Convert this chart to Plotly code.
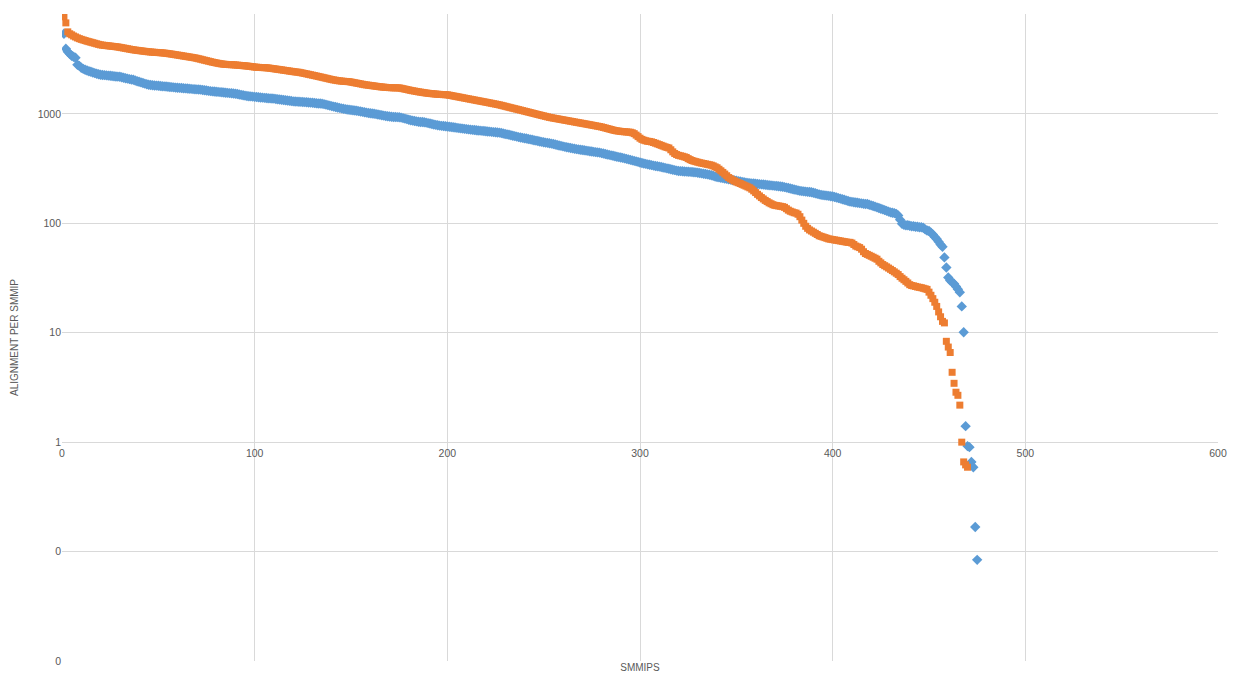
import plotly.graph_objects as go

# Blue series (diamonds) – alignment per smMIP, sorted descending
blue_vals = [
    5400, 3940, 3690, 3540, 3400, 3330, 3260, 2810, 2750, 2640, 2580, 2530, 2490, 2450, 2425, 2390, 2360, 2330, 2300, 2280,
    2270, 2260, 2250, 2240, 2230, 2220, 2210, 2200, 2190, 2185, 2160, 2140, 2120, 2100, 2080, 2065, 2050, 2020, 1990, 1967,
    1940, 1915, 1890, 1865, 1845, 1835, 1828, 1820, 1814, 1808, 1800, 1792, 1785, 1778, 1770, 1762, 1755, 1748, 1740, 1733,
    1728, 1722, 1716, 1710, 1704, 1698, 1692, 1686, 1680, 1675, 1670, 1665, 1655, 1645, 1635, 1625, 1615, 1607, 1600, 1595,
    1588, 1582, 1575, 1568, 1562, 1555, 1548, 1542, 1535, 1528, 1518, 1505, 1492, 1480, 1468, 1458, 1450, 1445, 1438, 1432,
    1426, 1420, 1414, 1408, 1402, 1396, 1390, 1386, 1382, 1378, 1370, 1362, 1355, 1348, 1340, 1332, 1325, 1318, 1310, 1302,
    1298, 1295, 1292, 1288, 1284, 1280, 1276, 1272, 1268, 1264, 1258, 1252, 1246, 1243, 1240, 1228, 1215, 1202, 1190, 1178,
    1166, 1155, 1144, 1134, 1124, 1115, 1106, 1098, 1092, 1086, 1080, 1074, 1068, 1060, 1052, 1044, 1036, 1028, 1020, 1014,
    1010, 1004, 996, 988, 980, 972, 965, 958, 952, 946, 941, 938, 936, 934, 933, 925, 915, 905, 895, 885,
    876, 868, 860, 854, 848, 844, 842, 840, 832, 824, 816, 808, 800, 794, 788, 782, 778, 774, 770, 766,
    762, 758, 754, 750, 746, 742, 738, 734, 730, 726, 722, 718, 715, 712, 709, 706, 703, 700, 697, 694,
    691, 688, 685, 682, 679, 676, 674, 668, 662, 656, 650, 644, 638, 632, 626, 620, 614, 608, 604, 600,
    595, 590, 585, 580, 575, 570, 565, 560, 555, 550, 546, 543, 540, 535, 530, 525, 520, 515, 510, 505,
    500, 496, 492, 488, 484, 480, 477, 474, 471, 468, 465, 462, 459, 456, 453, 450, 447, 445, 443, 438,
    434, 430, 426, 422, 418, 414, 410, 406, 403, 400, 396, 392, 388, 384, 380, 376, 372, 368, 364, 360,
    356, 352, 349, 346, 343, 340, 337, 334, 332, 330, 327, 324, 321, 318, 315, 312, 309, 306, 303, 301,
    300, 299, 298, 297, 296, 295, 294, 293, 292, 290, 288, 286, 284, 282, 280, 278, 275, 272, 268, 265,
    263, 261, 259, 257, 255, 253, 251, 249, 247, 245, 243, 241, 239, 237, 235, 234, 233, 232, 231, 230,
    229, 228, 227, 226, 225, 224, 223, 222, 221, 220, 219, 218, 217, 216, 214, 212, 210, 208, 206, 204,
    202, 200, 198, 197, 196, 195, 194, 193, 192, 190, 188, 186, 184, 182, 181, 180, 179, 178, 177, 176,
    174, 172, 170, 168, 166, 164, 162, 160, 158, 157, 156, 155, 154, 153, 152, 151, 150, 150, 148, 146,
    144, 142, 140, 138, 136, 134, 132, 130, 128, 126, 125, 124, 122, 118, 108, 99, 97, 96, 96, 95,
    94, 94, 93, 93, 92, 92, 91, 88, 86, 85, 82, 79, 75, 72, 68, 64, 61, 48.8, 39.5, 32,
    30, 29, 28, 26.5, 25, 23.4, 17.4, 10.1, 1.4, 0.92, 0.9, 0.66, 0.59, 0.168, 0.084,
]

# Orange series (squares) – alignment per smMIP, sorted descending
orange_vals = [
    7710, 6790, 5620, 5400, 5280, 5150, 5050, 4950, 4870, 4800, 4740, 4680, 4620, 4570, 4520, 4470, 4420, 4370, 4320, 4275,
    4250, 4230, 4210, 4190, 4170, 4150, 4130, 4110, 4090, 4060, 4030, 4000, 3970, 3940, 3910, 3880, 3853, 3830, 3810, 3790,
    3770, 3750, 3730, 3710, 3695, 3680, 3665, 3655, 3645, 3635, 3625, 3612, 3598, 3580, 3560, 3540, 3518, 3495, 3472, 3450,
    3428, 3405, 3382, 3360, 3338, 3316, 3294, 3272, 3250, 3220, 3190, 3160, 3125, 3095, 3065, 3035, 3005, 2975, 2950, 2925,
    2900, 2880, 2860, 2845, 2835, 2828, 2820, 2815, 2810, 2800, 2790, 2780, 2770, 2760, 2750, 2740, 2725, 2710, 2695, 2680,
    2670, 2662, 2655, 2650, 2645, 2640, 2630, 2615, 2600, 2585, 2570, 2555, 2540, 2525, 2510, 2495, 2480, 2465, 2450, 2435,
    2420, 2410, 2400, 2380, 2360, 2340, 2320, 2300, 2280, 2260, 2240, 2220, 2200, 2180, 2160, 2140, 2120, 2100, 2080, 2060,
    2045, 2030, 2015, 2005, 1995, 1988, 1980, 1975, 1970, 1955, 1940, 1925, 1910, 1895, 1880, 1865, 1850, 1840, 1830, 1820,
    1810, 1800, 1790, 1780, 1770, 1762, 1755, 1748, 1742, 1738, 1735, 1732, 1731, 1730, 1728, 1715, 1700, 1685, 1670, 1655,
    1640, 1628, 1616, 1604, 1592, 1582, 1572, 1562, 1552, 1544, 1536, 1530, 1524, 1518, 1512, 1508, 1504, 1500, 1497, 1495,
    1483, 1472, 1460, 1449, 1438, 1427, 1416, 1405, 1394, 1383, 1372, 1362, 1351, 1341, 1330, 1320, 1310, 1300, 1290, 1280,
    1270, 1260, 1250, 1240, 1230, 1220, 1210, 1198, 1186, 1174, 1162, 1150, 1139, 1127, 1116, 1105, 1094, 1083, 1072, 1061,
    1050, 1040, 1029, 1019, 1009, 998, 988, 978, 968, 959, 949, 940, 930, 923, 916, 909, 903, 896, 889, 883,
    876, 870, 863, 857, 851, 844, 838, 832, 826, 820, 814, 808, 802, 796, 790, 784, 778, 772, 766, 760,
    752, 744, 736, 728, 720, 712, 705, 700, 696, 692, 689, 686, 684, 682, 680, 672, 660, 640, 620, 600,
    585, 575, 568, 562, 560, 555, 548, 540, 532, 524, 516, 508, 500, 494, 488, 470, 450, 435, 425, 418,
    414, 410, 405, 400, 390, 382, 375, 370, 366, 362, 358, 355, 352, 349, 346, 343, 340, 335, 328, 322,
    312, 302, 292, 282, 272, 262, 255, 249, 244, 239, 235, 231, 227, 223, 219, 215, 211, 205, 198, 191,
    184, 178, 172, 167, 162, 158, 154, 151, 148, 146, 145, 144, 143, 142, 140, 136, 132, 129, 127, 125,
    124, 121, 115, 107, 100, 94, 90, 87, 85, 83, 81, 79, 77, 76, 75, 74, 73, 72, 71.5, 71,
    70.5, 70, 69.5, 69, 68.5, 68, 67.5, 67, 67, 66, 64, 62, 61, 60, 58, 55, 53, 52, 51, 50,
    49, 48, 47, 45, 43.5, 42, 41, 40, 39, 38, 37, 36, 35, 34, 32.6, 31.5, 30.5, 29.5, 28.5, 27.5,
    27, 26.8, 26.5, 26.2, 26, 25.8, 25.5, 25.2, 24.9, 23.5, 22, 20.5, 19, 17.4, 15.5, 14, 12.7, 12.3, 8.35, 7.4,
    6.6, 4.35, 3.45, 2.86, 2.68, 2.18, 1.0, 0.66, 0.62, 0.59,
]

blue_x = list(range(1, len(blue_vals) + 1))
orange_x = list(range(1, len(orange_vals) + 1))

x_ticks = [0, 100, 200, 300, 400, 500, 600]
y_tickvals = [0.01, 0.1, 1, 10, 100, 1000]
y_ticktext = ["0", "0", "1", "10", "100", "1000"]

BLUE = "#5B9BD5"
ORANGE = "#ED7D31"
GRID = "#D9D9D9"
TXT = "#595959"
FONT = "Liberation Sans"

y_lo, y_hi = -2, 3.913

fig = go.Figure()
fig.add_trace(go.Scatter(
    x=blue_x, y=blue_vals, mode="markers", name="Series 1",
    marker=dict(symbol="diamond", size=8, color=BLUE, line=dict(width=0)),
))
fig.add_trace(go.Scatter(
    x=orange_x, y=orange_vals, mode="markers", name="Series 2",
    marker=dict(symbol="square", size=7, color=ORANGE, line=dict(width=0)),
))
# invisible helper trace so the crossing x-axis (at y = 1) is drawn
fig.add_trace(go.Scatter(
    x=[0], y=[1], xaxis="x2", mode="markers", marker=dict(opacity=0),
    hoverinfo="skip", showlegend=False,
))

fig.update_layout(
    width=1238, height=678,
    margin=dict(l=62, r=20, t=14, b=17),
    paper_bgcolor="white", plot_bgcolor="white",
    showlegend=False,
    font=dict(family=FONT, color=TXT, size=10),
    xaxis=dict(
        range=[0, 600], tickvals=x_ticks, showticklabels=False,
        showgrid=True, gridcolor=GRID, gridwidth=1, zeroline=False, showline=False,
        ticks="",
        title=dict(text="SMMIPS", font=dict(size=10, color=TXT), standoff=2),
        automargin=False,
    ),
    xaxis2=dict(
        range=[0, 600], overlaying="x", anchor="free",
        position=(0 - y_lo) / (y_hi - y_lo), side="bottom",
        tickvals=x_ticks, ticktext=[str(v) for v in x_ticks],
        showgrid=False, zeroline=False, showline=False, ticks="",
        ticklabelstandoff=3,
        tickfont=dict(size=10.5, color=TXT), automargin=False,
    ),
    yaxis=dict(
        type="log", range=[y_lo, y_hi],
        tickvals=y_tickvals, ticktext=y_ticktext,
        showgrid=True, gridcolor=GRID, gridwidth=1, zeroline=False, showline=False,
        ticks="", tickfont=dict(size=10.5, color=TXT),
        title=dict(text="ALIGNMENT PER SMMIP", font=dict(size=10, color=TXT), standoff=17),
        automargin=False,
    ),
)

fig.write_html(
    "out.html",
    config={"displayModeBar": False},
    post_script="document.body.style.margin='0';document.body.style.overflow='hidden';",
)
